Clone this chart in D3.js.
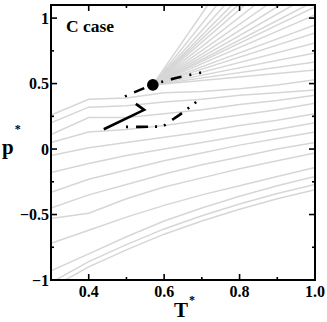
<!DOCTYPE html>
<html lang="en">
<head>
<meta charset="UTF-8" />
<title>C case</title>
<style>
  html, body { margin: 0; padding: 0; background: #fff; }
  svg { display: block; }
  .tick-label { font-family: "Liberation Serif", "Times New Roman", serif; font-weight: bold; font-size: 16px; fill: #000; }
  .axis-title { font-family: "Liberation Serif", "Times New Roman", serif; font-weight: bold; font-size: 21px; fill: #000; }
</style>
</head>
<body>
<svg width="327" height="322"></svg>
<script src="https://d3js.org/d3.v7.min.js"></script>
<script>
  // grid of temperatures the lower isochores are tabulated on
  const temps = [0.3, 0.4, 0.5, 0.6, 0.7, 0.8, 0.9, 1.0];

  // lower family: p* at each T in temps
  const lowLines = [
    [-1.06, -0.90, -0.77, -0.65, -0.55, -0.46, -0.38, -0.31],
    [-1.02, -0.86, -0.73, -0.61, -0.51, -0.42, -0.34, -0.27],
    [-0.93, -0.80, -0.67, -0.55, -0.45, -0.36, -0.28, -0.21],
    [-0.72, -0.62, -0.52, -0.43, -0.35, -0.28, -0.21, -0.14],
    [-0.53, -0.49, -0.38, -0.29, -0.22, -0.15, -0.09, -0.03],
    [-0.45, -0.35, -0.27, -0.19, -0.12, -0.06,  0.00,  0.05],
    [-0.33, -0.23, -0.16, -0.09, -0.03,  0.03,  0.08,  0.13],
    [-0.18, -0.11, -0.05,  0.00,  0.05,  0.10,  0.15,  0.20],
    [-0.05,  0.01,  0.05,  0.09,  0.13,  0.18,  0.22,  0.27],
    [ 0.05,  0.13,  0.15,  0.18,  0.22,  0.26,  0.30,  0.35],
    [ 0.11,  0.24,  0.24,  0.27,  0.30,  0.34,  0.37,  0.41],
    [ 0.20,  0.32,  0.33,  0.36,  0.38,  0.41,  0.43,  0.45],
    [ 0.26,  0.38,  0.39,  0.43,  0.44,  0.46,  0.49,  0.53]
  ];

  // upper family: fans out of the critical point
  const critT = 0.57, critP = 0.49;
  // where each fan line leaves the frame: [T*, p*]
  const fanEnds = [
    [0.716, 1.10], [0.740, 1.10], [0.761, 1.10], [0.780, 1.10], [0.796, 1.10],
    [0.814, 1.10], [0.841, 1.10], [0.873, 1.10], [0.907, 1.10], [0.942, 1.10],
    [0.979, 1.10], [1.0, 1.085], [1.0, 1.024], [1.0, 0.948], [1.0, 0.887],
    [1.0, 0.810], [1.0, 0.733], [1.0, 0.665], [1.0, 0.604]
  ];

  // black curves
  const solidCurve = [[0.440, 0.151], [0.547, 0.299], [0.525, 0.345]];
  const upperDashDot = [[0.496, 0.402], [0.570, 0.490], [0.700, 0.585]];
  const lowerDashDot = [[0.499, 0.169], [0.589, 0.172], [0.629, 0.238], [0.690, 0.372]];

  const xTicks = [0.4, 0.6, 0.8, 1.0];
  const xMinor = [0.3, 0.5, 0.7, 0.9];
  const yTicks = [-1, -0.5, 0, 0.5, 1];
  const yMinor = [-0.75, -0.25, 0.25, 0.75];

  const margin = { left: 51, right: 12, top: 5, bottom: 42 };
  const W = 327, H = 322;
  const svg = d3.select("svg");

  const x = d3.scaleLinear().domain([0.3, 1.0]).range([margin.left, W - margin.right]);
  const y = d3.scaleLinear().domain([-1, 1.1]).range([H - margin.bottom, margin.top]);

  svg.append("clipPath").attr("id", "plot")
    .append("rect")
    .attr("x", x(0.3)).attr("y", y(1.1))
    .attr("width", x(1.0) - x(0.3)).attr("height", y(-1) - y(1.1));

  const line = d3.line().x(d => x(d[0])).y(d => y(d[1]));

  const gray = svg.append("g").attr("clip-path", "url(#plot)")
    .attr("fill", "none").attr("stroke", "#d6d6d6").attr("stroke-width", 1.5);

  gray.selectAll("path.low")
    .data(lowLines)
    .join("path")
    .attr("class", "low")
    .attr("d", ps => line(ps.map((p, i) => [temps[i], p])));

  gray.selectAll("path.high")
    .data(fanEnds)
    .join("path")
    .attr("class", "high")
    .attr("d", e => line([[critT, critP], e]));

  const blk = svg.append("g").attr("fill", "none").attr("stroke", "#000").attr("stroke-width", 2.6);
  const smooth = d3.line().x(d => x(d[0])).y(d => y(d[1])).curve(d3.curveMonotoneX);
  blk.append("path").attr("d", line(solidCurve));
  blk.append("path").attr("d", smooth(upperDashDot))
    .attr("stroke-dasharray", "2,8,11,8,2,8");
  blk.append("path").attr("d", smooth(lowerDashDot))
    .attr("stroke-dasharray", "2,8,12,7,2,7");

  svg.append("circle")
    .attr("cx", x(critT)).attr("cy", y(critP)).attr("r", 5.8).attr("fill", "#000");

  // frame
  svg.append("rect")
    .attr("x", x(0.3)).attr("y", y(1.1))
    .attr("width", x(1.0) - x(0.3)).attr("height", y(-1) - y(1.1))
    .attr("fill", "none").attr("stroke", "#000").attr("stroke-width", 2);

  // ticks (inward, on all four sides)
  const tk = svg.append("g").attr("stroke", "#000").attr("stroke-width", 1.6);
  const addX = (vals, len) => vals.forEach(v => {
    tk.append("line").attr("x1", x(v)).attr("x2", x(v)).attr("y1", y(-1)).attr("y2", y(-1) - len);
    tk.append("line").attr("x1", x(v)).attr("x2", x(v)).attr("y1", y(1.1)).attr("y2", y(1.1) + len);
  });
  const addY = (vals, len) => vals.forEach(v => {
    tk.append("line").attr("y1", y(v)).attr("y2", y(v)).attr("x1", x(0.3)).attr("x2", x(0.3) + len);
    tk.append("line").attr("y1", y(v)).attr("y2", y(v)).attr("x1", x(1.0)).attr("x2", x(1.0) - len);
  });
  addX(xTicks, 6); addX(xMinor, 3);
  addY(yTicks, 6); addY(yMinor, 3);

  svg.append("g").selectAll("text").data(xTicks).join("text")
    .attr("class", "tick-label")
    .attr("x", d => x(d)).attr("y", y(-1) + 16.5)
    .attr("text-anchor", "middle")
    .text(d => d.toFixed(1));

  svg.append("g").selectAll("text").data(yTicks).join("text")
    .attr("class", "tick-label")
    .attr("x", x(0.3) - 2).attr("y", d => y(d) + 5.5)
    .attr("text-anchor", "end")
    .text(d => d3.format("")(d));

  // axis titles
  const tx = svg.append("text").attr("class", "axis-title").attr("x", 174).attr("y", 317);
  tx.append("tspan").text("T");
  tx.append("tspan").attr("font-size", 12).attr("dy", -13).attr("dx", 1).text("*");

  const ty = svg.append("text").attr("class", "axis-title").attr("x", 2).attr("y", 154);
  ty.append("tspan").text("p");
  ty.append("tspan").attr("font-size", 12).attr("dy", -21).attr("dx", 1).text("*");

  svg.append("text")
    .attr("x", 66).attr("y", 32)
    .attr("font-family", "Liberation Serif, serif").attr("font-weight", "bold").attr("font-size", 17.5)
    .text("C case");
</script>
</body>
</html>
